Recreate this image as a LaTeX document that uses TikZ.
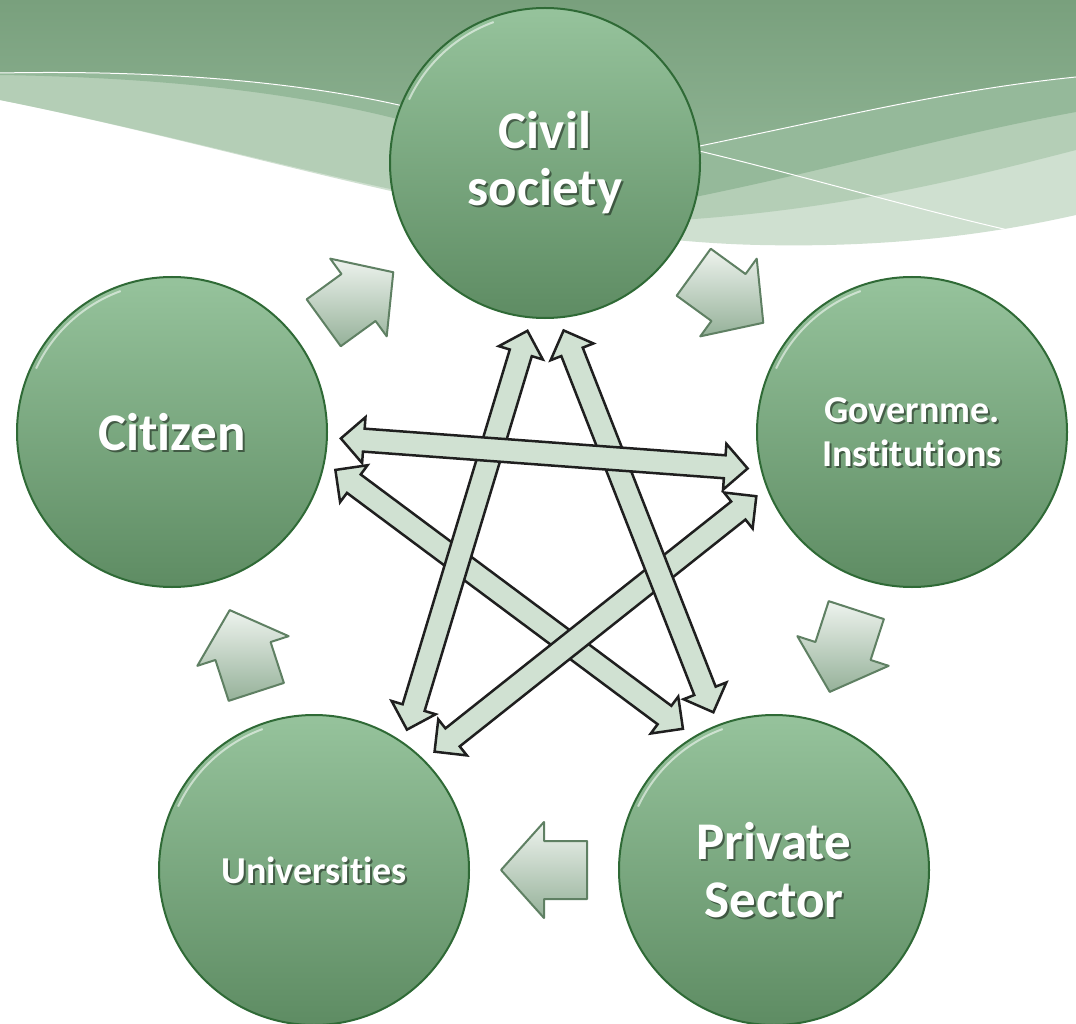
\documentclass[tikz,border=0pt]{standalone}
\usepackage{fontspec}
\setmainfont{Carlito}[Ligatures=NoCommon]
\usetikzlibrary{calc}

\definecolor{balltop}{HTML}{96C39C}
\definecolor{ballbot}{HTML}{5E8C63}
\definecolor{ballrim}{HTML}{2F6A36}
\definecolor{flowtop}{HTML}{EEF3EE}
\definecolor{flowbot}{HTML}{95B199}
\definecolor{flowrim}{HTML}{5F8063}
\definecolor{starfill}{HTML}{D0E1D2}
\definecolor{banddark}{HTML}{79A07D}
\definecolor{bandmid}{HTML}{95B99A}
\definecolor{bandsoft}{HTML}{B4CEB6}
\definecolor{bandpale}{HTML}{CFE0D0}

\tikzset{
  ball/.style={circle, minimum size=310pt, inner sep=0pt, outer sep=0pt,
    draw=ballrim, line width=2pt, top color=balltop, bottom color=ballbot},
  balltext/.style={text=white, align=center},
  ballshadow/.style={text=black, opacity=.45, align=center},
  flow/.style={draw=flowrim, line width=2pt, line join=round,
    top color=flowtop, bottom color=flowbot},
  twoway/.style={draw=black!88, line width=2.5pt, fill=starfill, line join=miter,
    to path={
      ($(\tikztostart)!14pt!(\tikztotarget)$) coordinate (p)
      ($(\tikztotarget)!14pt!(\tikztostart)$) coordinate (q)
      (p) -- ($(p)!23pt!(q)!23pt!90:(q)$) -- ($(p)!23pt!(q)!11.5pt!90:(q)$)
          -- ($(q)!23pt!(p)!11.5pt!-90:(p)$) -- ($(q)!23pt!(p)!23pt!-90:(p)$)
          -- (q) -- ($(q)!23pt!(p)!23pt!90:(p)$) -- ($(q)!23pt!(p)!11.5pt!90:(p)$)
          -- ($(p)!23pt!(q)!11.5pt!-90:(q)$) -- ($(p)!23pt!(q)!23pt!-90:(q)$) -- cycle}}
}

\begin{document}
\begin{tikzpicture}[x=1pt, y=-1pt]
  \useasboundingbox (0,0) rectangle (1076,1024);
  \fill[white] (0,0) rectangle (1076,1024);
  % background band
  \fill[bandpale] (0,0) -- (0,100) .. controls (250,150) and (520,240) .. (760,245)
    .. controls (900,248) and (1000,232) .. (1076,215) -- (1076,0) -- cycle;
  \fill[bandsoft] (0,0) -- (0,100) .. controls (250,150) and (480,225) .. (640,222)
    .. controls (820,215) and (960,180) .. (1076,150) -- (1076,0) -- cycle;
  \fill[bandmid] (0,0) -- (0,75) .. controls (200,78) and (330,100) .. (420,125)
    .. controls (520,165) and (620,200) .. (695,197)
    .. controls (850,165) and (950,135) .. (1076,112) -- (1076,0) -- cycle;
  \fill[top color=banddark, bottom color=bandmid!70!banddark] (0,0) -- (0,73)
    .. controls (150,70) and (300,80) .. (420,110)
    .. controls (520,135) and (620,150) .. (695,147)
    .. controls (850,115) and (950,90) .. (1076,77) -- (1076,0) -- cycle;
  \draw[white, line width=1pt] (0,73) .. controls (150,70) and (300,80) .. (420,110);
  \draw[white, line width=1pt] (695,147) .. controls (850,115) and (950,90) .. (1076,77);
  \draw[white, line width=1pt] (695,150) .. controls (800,175) and (900,205) .. (1008,230);

  % the five circles
  \foreach \n/\x/\y/\fs/\ls/\t in {
      civil/545/163/53/57/{Civil\\society},
      gov/912/432/38/44/{Governme.\\Institutions},
      private/774/870/53/58/{Private\\Sector},
      univ/314/870/38/44/{Universities},
      citizen/172/432/53/57/{Citizen}} {
    \node[ball] (\n) at (\x,\y) {};
    \draw[white, opacity=.55, line width=2pt] (\n) ++(205:150) arc[start angle=205, end angle=250, radius=150];
    \node[ballshadow, font=\bfseries\fontsize{\fs}{\ls}\selectfont]
      (\n-s) at ([xshift=2pt,yshift=-2pt]\n) {\t};
    \node[balltext, font=\bfseries\fontsize{\fs}{\ls}\selectfont] (\n-t) at (\n) {\t};
  }

  % clockwise block arrows
  \foreach \a/\b/\r in {citizen/civil/36, civil/gov/-36, gov/private/-108,
                        private/univ/180, univ/citizen/108} {
    \begin{scope}[shift={($(\a)!.5!(\b)$)}, rotate=\r]
      \draw[flow] (-43,-29) -- (0,-29) -- (0,-48) -- (43,0) -- (0,48) -- (0,29)
        -- (-43,29) -- cycle;
    \end{scope}
  }

  % star of two-way arrows
  \draw[twoway] (citizen.349) to (private.121);
  \draw[twoway] (univ.45) to (gov.201);
  \draw[twoway] (civil.275) to (private.111);
  \draw[twoway] (univ.55) to (civil.265);
  \draw[twoway] (citizen.358) to (gov.194);
\end{tikzpicture}
\end{document}
